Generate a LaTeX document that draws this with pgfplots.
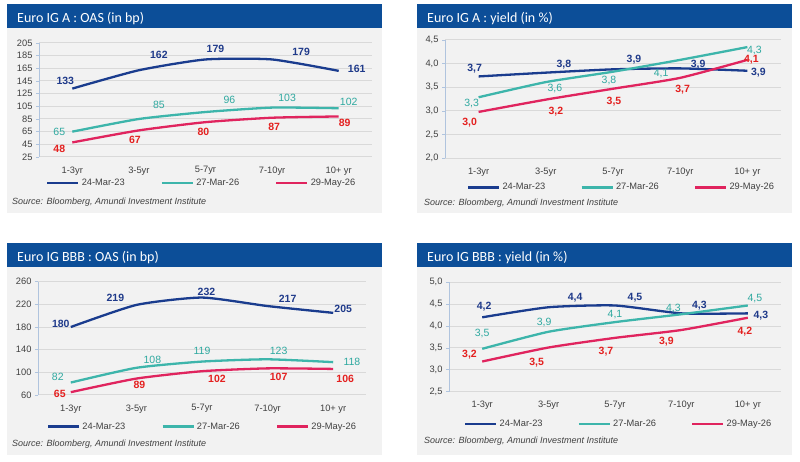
\documentclass[border=0pt]{standalone}
\usepackage{fontspec}
\setmainfont{Liberation Sans}
\newfontfamily\titlefont{Carlito}
\usepackage{pgfplots}
\pgfplotsset{compat=1.18}
\definecolor{titleblue}{HTML}{0C4E98}
\definecolor{panelgray}{HTML}{F2F2F2}
\definecolor{gridgray}{HTML}{D9D9D9}
\definecolor{yaxcol}{HTML}{B0C4DE}
\definecolor{navy}{HTML}{1A3C8E}
\definecolor{navylab}{HTML}{1F3A8A}
\definecolor{teal}{HTML}{3DB5AB}
\definecolor{teallab}{HTML}{2FA9A0}
\definecolor{crim}{HTML}{E0245E}
\definecolor{redlab}{HTML}{E4201F}
\definecolor{txtgray}{HTML}{404040}
\pgfplotsset{
  panel/.style={
    scale only axis, anchor=south west,
    xmin=-0.5, xmax=4.5, xtick={0,1,2,3,4},
    xticklabels={1-3yr,3-5yr,5-7yr,7-10yr,10+ yr},
    axis x line=bottom, axis y line=left,
    axis line style={-},
    x axis line style={draw=gridgray, line width=1pt},
    y axis line style={draw=yaxcol, line width=1pt},
    xtick style={draw=none},
    ytick style={draw=yaxcol, line width=0.8pt},
    tick align=outside, major tick length=3pt,
    ymajorgrids, major grid style={gridgray, line width=1pt},
    tick label style={font=\fontsize{9.3}{10}\selectfont, text=txtgray},
    xticklabel style={yshift=-3pt},
    /pgf/number format/assume math mode=true,
    clip=false,
    legend columns=3,
    legend style={draw=none, fill=none, anchor=west, inner sep=0pt,
      font=\fontsize{9.3}{10}\selectfont, text=txtgray},
    legend image code/.code={\draw[##1, line width=2.6pt] (0pt,0pt) -- (31pt,0pt);},
  },
  lab/.style={nodes near coords, point meta=explicit symbolic,
    visualization depends on={\thisrow{dx}\as\dx},
    visualization depends on={\thisrow{dy}\as\dy},
    every node near coord/.style={anchor=center, inner sep=0pt, xshift=\dx pt, yshift=\dy pt}},
  sNavy/.style={navy, line width=2.3pt, smooth, tension=0.35, lab,
    every node near coord/.append style={text=navylab, font=\fontsize{10.5}{12}\selectfont\bfseries}},
  sTeal/.style={teal, line width=2.3pt, smooth, tension=0.35, lab,
    every node near coord/.append style={text=teallab, font=\fontsize{10.5}{12}\selectfont}},
  sRed/.style={crim, line width=2.3pt, smooth, tension=0.35, lab,
    every node near coord/.append style={text=redlab, font=\fontsize{10.5}{12}\selectfont\bfseries}},
}
\begin{document}
\begin{tikzpicture}[x=1pt,y=1pt]
\path[use as bounding box] (0,0) rectangle (800,462);
\fill[white] (0,0) rectangle (800,462);
% backgrounds
\fill[panelgray] (7,249) rectangle (382,434);
\fill[panelgray] (417,249) rectangle (792,434);
\fill[panelgray] (7,7) rectangle (382,195);
\fill[panelgray] (417,7) rectangle (792,195);
% title bars
\fill[titleblue] (7,434) rectangle (382,458);
\fill[titleblue] (417,434) rectangle (792,458);
\fill[titleblue] (7,195) rectangle (382,219);
\fill[titleblue] (417,195) rectangle (792,219);
\node[anchor=base west, inner sep=0pt, text=white, font=\titlefont\fontsize{14}{16}\selectfont] at (17,439.5) {Euro IG A : OAS (in bp)};
\node[anchor=base west, inner sep=0pt, text=white, font=\titlefont\fontsize{14}{16}\selectfont] at (427,439.5) {Euro IG A : yield (in \%)};
\node[anchor=base west, inner sep=0pt, text=white, font=\titlefont\fontsize{14}{16}\selectfont] at (17,200.3) {Euro IG BBB : OAS (in bp)};
\node[anchor=base west, inner sep=0pt, text=white, font=\titlefont\fontsize{14}{16}\selectfont] at (427,200.3) {Euro IG BBB : yield (in \%)};
% sources
\node[anchor=west, inner sep=0pt, text=txtgray, font=\fontsize{9}{10}\selectfont\itshape] at (12,260) {Source: Bloomberg, Amundi Investment Institute};
\node[anchor=west, inner sep=0pt, text=txtgray, font=\fontsize{9}{10}\selectfont\itshape] at (424,259) {Source: Bloomberg, Amundi Investment Institute};
\node[anchor=west, inner sep=0pt, text=txtgray, font=\fontsize{9}{10}\selectfont\itshape] at (12,18) {Source: Bloomberg, Amundi Investment Institute};
\node[anchor=west, inner sep=0pt, text=txtgray, font=\fontsize{9}{10}\selectfont\itshape] at (424,21.3) {Source: Bloomberg, Amundi Investment Institute};

% Panel 1
\begin{axis}[panel, at={(39pt,305pt)}, width=333pt, height=114pt,
  ymin=25, ymax=205, ytick={25,45,...,205},
  legend style={at={(0.021,-0.228)}, /tikz/every even column/.append style={column sep=34pt}}]
\addplot[sNavy] table[x=x,y=y,meta=lab] {
x y lab dx dy
0 133 133 -7 7.6
1 162 162 20 15
2 179 179 10 10.5
3 179 179 29 7.5
4 161 161 18 2
};
\addlegendentry{24-Mar-23}
\addplot[sTeal] table[x=x,y=y,meta=lab] {
x y lab dx dy
0 65 65 -13 0
1 85 85 20 14
2 96 96 24 12
3 103 103 15 10
4 102 102 10 6
};
\addlegendentry{27-Mar-26}
\addplot[sRed] table[x=x,y=y,meta=lab] {
x y lab dx dy
0 48 48 -13 -6
1 67 67 -4 -9
2 80 80 -2 -10
3 87 87 2 -9.5
4 89 89 6 -6
};
\addlegendentry{29-May-26}
\end{axis}

% Panel 2
\begin{axis}[panel, at={(445pt,303.7pt)}, width=336pt, height=118.3pt,
  ymin=2, ymax=4.5, ytick={2,2.5,3,3.5,4,4.5},
  yticklabels={{2,0},{2,5},{3,0},{3,5},{4,0},{4,5}},
  legend style={at={(0.0646,-0.245)}, /tikz/every even column/.append style={column sep=33pt}}]
\addplot[sNavy] table[x=x,y=y,meta=lab] {
x y lab dx dy
0 3.73 3,7 -4 7.5
1 3.81 3,8 18 7.7
2 3.88 3,9 21 10
3 3.90 3,9 18 4
4 3.85 3,9 11 -2
};
\addlegendentry{24-Mar-23}
\addplot[sTeal] table[x=x,y=y,meta=lab] {
x y lab dx dy
0 3.29 3,3 -7 -6
1 3.61 3,6 9 -6
2 3.83 3,8 -4 -9
3 4.08 4,1 -19 -14
4 4.35 4,3 7 -3
};
\addlegendentry{27-Mar-26}
\addplot[sRed] table[x=x,y=y,meta=lab] {
x y lab dx dy
0 2.98 3,0 -9 -11
1 3.24 3,2 10 -12
2 3.47 3,5 1 -13
3 3.70 3,7 2.5 -11.5
4 4.08 4,1 4 0
};
\addlegendentry{29-May-26}
\end{axis}

% Panel 3
\begin{axis}[panel, at={(38pt,67pt)}, width=328pt, height=113.3pt,
  ymin=60, ymax=260, ytick={60,100,...,260},
  legend style={at={(0.0265,-0.28)}, /tikz/every even column/.append style={column sep=34pt}}]
\addplot[sNavy] table[x=x,y=y,meta=lab] {
x y lab dx dy
0 180 180 -10 2.7
1 219 219 -21 7
2 232 232 4.5 6
3 217 217 20 7
4 205 205 10 4
};
\addlegendentry{24-Mar-23}
\addplot[sTeal] table[x=x,y=y,meta=lab] {
x y lab dx dy
0 82 82 -13 6
1 108 108 16 8
2 119 119 0 10.6
3 123 123 11 8
4 118 118 18.7 0
};
\addlegendentry{27-Mar-26}
\addplot[sRed] table[x=x,y=y,meta=lab] {
x y lab dx dy
0 65 65 -11 -2
1 89 89 3 -6.4
2 102 102 15 -8
3 107 107 11 -9
4 106 106 12 -10
};
\addlegendentry{29-May-26}
\end{axis}

% Panel 4
\begin{axis}[panel, at={(449pt,70.3pt)}, width=332pt, height=109.4pt,
  ymin=2.5, ymax=5, ytick={2.5,3,3.5,4,4.5,5},
  yticklabels={{2,5},{3,0},{3,5},{4,0},{4,5},{5,0}},
  legend style={at={(0.045,-0.295)}, /tikz/every even column/.append style={column sep=33pt}}]
\addplot[sNavy] table[x=x,y=y,meta=lab] {
x y lab dx dy
0 4.20 4,2 2 10.6
1 4.43 4,4 26.5 10
2 4.47 4,5 20 7.4
3 4.29 4,3 18 8
4 4.29 4,3 13 -2.4
};
\addlegendentry{24-Mar-23}
\addplot[sTeal] table[x=x,y=y,meta=lab] {
x y lab dx dy
0 3.48 3,5 0 15.7
1 3.87 3,9 -4.5 9
2 4.09 4,1 0 8
3 4.27 4,3 -8 6
4 4.47 4,5 7 6.7
};
\addlegendentry{27-Mar-26}
\addplot[sRed] table[x=x,y=y,meta=lab] {
x y lab dx dy
0 3.19 3,2 -12.7 6.7
1 3.51 3,5 -12 -15.6
2 3.73 3,7 -9 -14
3 3.91 3,9 -15 -11.7
4 4.19 4,2 -3 -14
};
\addlegendentry{29-May-26}
\end{axis}
\end{tikzpicture}
\end{document}
